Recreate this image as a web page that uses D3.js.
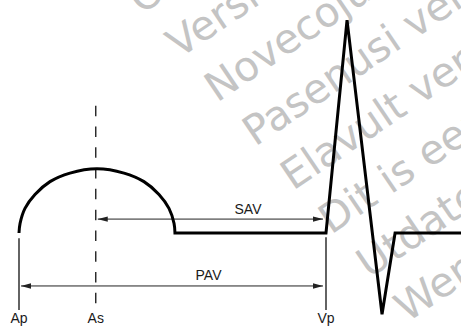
<!DOCTYPE html>
<html>
<head>
<meta charset="utf-8">
<script src="https://cdn.jsdelivr.net/npm/d3@7"></script>
<style>
  html, body { margin: 0; padding: 0; background: #fff; }
  svg { display: block; }
</style>
</head>
<body>
<div id="chart"></div>
<script>
const width = 461;
const height = 327;

// waveform, time in ms from atrial pace, amplitude in mV
const pWaveMs = [0, 0.7, 3.9, 10.4, 20.2, 33.2, 50.8, 68.4, 81.4, 91.2, 97.7, 101, 101.6];
const pWaveMv = [0, 0.09, 0.23, 0.36, 0.48, 0.56, 0.6, 0.56, 0.48, 0.36, 0.23, 0.09, 0];
const restMs = [101.6, 200, 213.7, 236.5, 245, 288];
const restMv = [0, 0, 1.99, -0.76, 0, 0];

// event markers
const markerNames = ["Ap", "As", "Vp"];
const markerMs = [0, 50, 200];
const markerDashed = [false, true, false];

// intervals
const intervalNames = ["SAV", "PAV"];
const intervalStart = [50, 0];
const intervalEnd = [200, 200];

// watermark
const watermarkLines = [
  "Outdated version",
  "Versione obsoleta",
  "Novecojusi versija",
  "Pasenusi versija",
  "Elavult verzió",
  "Dit is een verouderde versie",
  "Utdatert versjon",
  "Wersja przeterminowana"
];

const svg = d3.select('#chart')
  .append('svg')
  .attr('width', width)
  .attr('height', height)
  .attr('viewBox', [0, 0, width, height]);

const x = d3.scaleLinear()
  .domain([0, 200])
  .range([19, 326]);

const y = d3.scaleLinear()
  .domain([0, 2])
  .range([233, 19]);

// watermark behind everything
svg.append('g')
  .selectAll('text')
  .data(watermarkLines)
  .join('text')
    .attr('transform', (d, i) => `translate(${141 + i * 38}, ${15 + i * 44}) rotate(-34)`)
    .attr('font-family', 'DejaVu Sans, sans-serif')
    .attr('font-size', 41)
    .attr('fill', '#c4c4c4')
    .text(d => d);

const defs = svg.append('defs');
defs.append('marker')
  .attr('id', 'arrow')
  .attr('viewBox', '0 -3 10 6')
  .attr('refX', 10)
  .attr('refY', 0)
  .attr('markerUnits', 'userSpaceOnUse')
  .attr('markerWidth', 10)
  .attr('markerHeight', 6)
  .attr('orient', 'auto-start-reverse')
  .append('path')
    .attr('d', 'M0,-2.7L10,0L0,2.7Z')
    .attr('fill', '#222');

// marker lines
const markerTop = { Ap: -0.05, As: 1.19, Vp: -0.04 };
svg.append('g')
  .selectAll('line')
  .data(markerNames)
  .join('line')
    .attr('x1', (d, i) => x(markerMs[i]))
    .attr('x2', (d, i) => x(markerMs[i]))
    .attr('y1', d => y(markerTop[d]))
    .attr('y2', y(-0.72))
    .attr('stroke', '#222')
    .attr('stroke-width', 1.4)
    .attr('stroke-dasharray', (d, i) => markerDashed[i] ? '10.5,10.3' : null);

svg.append('g')
  .attr('font-family', 'Liberation Sans, Arial, sans-serif')
  .attr('font-size', 14)
  .attr('fill', '#1a1a1a')
  .attr('text-anchor', 'middle')
  .selectAll('text')
  .data(markerNames)
  .join('text')
    .attr('x', (d, i) => x(markerMs[i]))
    .attr('y', 322.5)
    .text(d => d);

// interval arrows
const intervalLevel = { SAV: 0.13, PAV: -0.495 };
const intervalLabelX = { SAV: 248, PAV: 208.5 };
const arrows = svg.append('g');
arrows.selectAll('line')
  .data(intervalNames)
  .join('line')
    .attr('x1', (d, i) => x(intervalStart[i]) + 2)
    .attr('x2', (d, i) => x(intervalEnd[i]) - 3)
    .attr('y1', d => y(intervalLevel[d]))
    .attr('y2', d => y(intervalLevel[d]))
    .attr('stroke', '#222')
    .attr('stroke-width', 1)
    .attr('marker-start', 'url(#arrow)')
    .attr('marker-end', 'url(#arrow)');

arrows.selectAll('text')
  .data(intervalNames)
  .join('text')
    .attr('x', d => intervalLabelX[d])
    .attr('y', d => y(intervalLevel[d]) - 5.5)
    .attr('font-family', 'Liberation Sans, Arial, sans-serif')
    .attr('font-size', 14)
    .attr('fill', '#1a1a1a')
    .attr('text-anchor', 'middle')
    .text(d => d);

// waveform
const domeLine = d3.line()
  .x(i => x(pWaveMs[i]))
  .y(i => y(pWaveMv[i]))
  .curve(d3.curveCatmullRom.alpha(0.5));

const restLine = d3.line()
  .x(i => x(restMs[i]))
  .y(i => y(restMv[i]));

const wavePath = domeLine(d3.range(pWaveMs.length)) +
  restLine(d3.range(restMs.length)).replace(/^M/, 'L');

svg.append('path')
  .attr('d', wavePath)
  .attr('fill', 'none')
  .attr('stroke', '#000')
  .attr('stroke-width', 3)
  .attr('stroke-linejoin', 'miter');
</script>
</body>
</html>
